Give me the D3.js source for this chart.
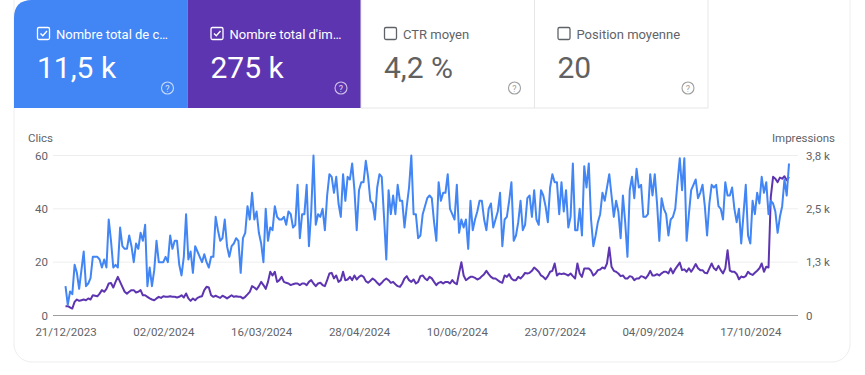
<!DOCTYPE html>
<html>
<head>
<meta charset="utf-8">
<script src="https://cdn.jsdelivr.net/npm/d3@7.9.0/dist/d3.min.js"></script>
<style>
  body { margin: 0; background: #fff; }
  svg { display: block; font-family: Roboto, "Noto Sans", sans-serif; }
</style>
</head>
<body>
<svg id="chart" width="865" height="375"></svg>
<script>
// metric cards
const cardLabels = ['Nombre total de c…', "Nombre total d'im…", 'CTR moyen', 'Position moyenne'];
const cardValues = ['11,5 k', '275 k', '4,2 %', '20'];
const cardSelected = [true, true, false, false];

// daily series, starting 21/12/2023
const startDate = new Date(2023, 11, 21);
const clicks = [
  11, 4, 9, 8, 19, 16, 10, 17, 24, 11,
  12, 14, 22, 22, 22, 21, 18, 21, 18, 36,
  28, 18, 19, 18, 33, 26, 25, 25, 30, 26,
  20, 27, 25, 31, 28, 34, 11, 18, 11, 17,
  28, 20, 20, 20, 22, 20, 30, 25, 28, 28,
  19, 15, 22, 38, 21, 24, 16, 26, 24, 22,
  20, 23, 20, 18, 22, 22, 37, 32, 28, 29,
  36, 26, 22, 26, 27, 29, 28, 16, 29, 31,
  41, 36, 46, 36, 39, 31, 27, 20, 40, 28,
  33, 32, 41, 37, 36, 36, 37, 34, 39, 38,
  33, 34, 49, 29, 38, 38, 49, 26, 39, 60,
  34, 38, 37, 40, 32, 45, 53, 52, 46, 52,
  42, 37, 53, 43, 52, 51, 57, 47, 32, 47,
  50, 50, 58, 52, 43, 42, 36, 48, 53, 52,
  37, 21, 47, 38, 45, 38, 49, 43, 43, 33,
  41, 48, 60, 38, 38, 29, 30, 38, 41, 44,
  45, 44, 35, 28, 50, 43, 46, 46, 53, 40,
  38, 36, 49, 31, 36, 33, 36, 25, 43, 32,
  36, 39, 43, 43, 36, 32, 40, 42, 33, 36,
  39, 46, 26, 36, 37, 43, 50, 28, 30, 35,
  43, 32, 34, 44, 45, 37, 47, 36, 34, 47,
  45, 41, 35, 48, 53, 50, 50, 38, 50, 39,
  47, 33, 37, 57, 32, 32, 40, 30, 56, 48,
  57, 36, 26, 30, 35, 38, 46, 43, 48, 53,
  45, 37, 43, 39, 29, 45, 35, 22, 47, 52,
  44, 55, 48, 49, 37, 37, 38, 53, 45, 53,
  42, 28, 44, 40, 38, 30, 36, 37, 40, 50,
  59, 47, 59, 28, 38, 47, 49, 51, 44, 46,
  49, 41, 30, 42, 49, 48, 49, 41, 40, 36,
  50, 45, 45, 48, 40, 35, 40, 27, 38, 49,
  30, 27, 43, 38, 46, 42, 52, 46, 50, 38,
  43, 42, 39, 31, 37, 41, 51, 45, 57
];
const impressions = [
  219, 219, 188, 163, 319, 375, 344, 359, 375, 359,
  400, 375, 475, 463, 450, 513, 594, 556, 625, 750,
  763, 656, 788, 906, 788, 669, 556, 513, 556, 594,
  594, 538, 556, 594, 475, 475, 438, 400, 375, 359,
  400, 438, 413, 450, 438, 438, 450, 438, 438, 422,
  438, 475, 422, 516, 400, 344, 400, 359, 413, 438,
  453, 594, 672, 656, 475, 438, 463, 438, 413, 463,
  438, 400, 438, 475, 438, 453, 438, 438, 400, 438,
  494, 556, 688, 656, 609, 688, 788, 713, 625, 788,
  1025, 938, 1025, 788, 828, 906, 788, 766, 750, 713,
  734, 750, 750, 713, 750, 750, 713, 788, 828, 750,
  688, 750, 766, 713, 688, 828, 984, 1000, 869, 938,
  788, 828, 1025, 828, 844, 906, 828, 938, 844, 906,
  938, 906, 806, 766, 813, 869, 828, 766, 713, 766,
  828, 869, 828, 766, 788, 734, 688, 672, 750, 869,
  922, 828, 788, 844, 750, 788, 922, 938, 869, 828,
  906, 869, 788, 713, 766, 788, 750, 788, 788, 750,
  828, 766, 734, 1000, 1250, 938, 828, 869, 906, 906,
  881, 844, 869, 922, 969, 1047, 969, 906, 869, 869,
  828, 788, 766, 938, 906, 969, 869, 828, 828, 906,
  869, 922, 1000, 984, 1000, 1047, 1125, 1078, 1025, 938,
  906, 850, 922, 1025, 1047, 1219, 938, 984, 969, 984,
  963, 938, 984, 922, 869, 1219, 984, 906, 1100, 1100,
  1100, 1047, 938, 984, 1063, 1078, 1125, 1100, 1219, 1594,
  1141, 1047, 1025, 984, 922, 938, 869, 869, 922, 906,
  828, 869, 869, 922, 906, 869, 938, 1047, 938, 938,
  969, 938, 988, 1025, 1025, 988, 1106, 988, 1088, 1163,
  1238, 1063, 1081, 1025, 1106, 1025, 1106, 1206, 1106, 1063,
  1063, 1000, 988, 1106, 1219, 1106, 1063, 1163, 1063, 988,
  1106, 1531, 1050, 1025, 1025, 975, 850, 913, 894, 925,
  1025, 975, 950, 1000, 1050, 1106, 1219, 1025, 1144, 1125,
  2781, 3250, 3206, 3125, 3231, 3206, 3263, 3169, 3250
];

// axes
const clicksTicks = [0, 20, 40, 60];
const impressionTicks = [0, 1250, 2500, 3750];
const dateTicks = ['21/12/2023', '02/02/2024', '16/03/2024', '28/04/2024', '10/06/2024', '23/07/2024', '04/09/2024', '17/10/2024'];

const blue = '#4285f4';
const purple = '#5e35b1';
const parseDay = d3.timeParse('%d/%m/%Y');
const dates = clicks.map((_, i) => d3.timeDay.offset(startDate, i));

const svg = d3.select('#chart');

// outer card
svg.append('rect')
  .attr('x', 14).attr('y', -20).attr('width', 836).attr('height', 382)
  .attr('rx', 18)
  .attr('fill', '#fff').attr('stroke', '#eeeeee');

// metric tiles
const tileX = d3.scaleBand().domain(d3.range(4)).range([14, 708]);
const tileFill = [blue, purple, '#fff', '#fff'];

const tiles = svg.selectAll('g.tile')
  .data(cardLabels)
  .join('g')
  .attr('class', 'tile')
  .attr('transform', (d, i) => `translate(${tileX(i)},0)`);

tiles.each(function (d, i) {
  const g = d3.select(this);
  const w = tileX.bandwidth();
  const on = cardSelected[i];
  const fg = on ? '#fff' : '#5f6368';
  if (i === 0) {
    g.append('path')
      .attr('d', `M0,108 V18 Q0,0 18,0 H${w} V108 Z`)
      .attr('fill', tileFill[i]);
  } else {
    g.append('rect').attr('width', w).attr('height', 108).attr('fill', tileFill[i]);
  }
  if (!on) {
    g.append('line').attr('x1', 0).attr('x2', 0).attr('y1', 0).attr('y2', 108).attr('stroke', '#e6e6e6');
    g.append('line').attr('x1', 0).attr('x2', w).attr('y1', 108).attr('y2', 108).attr('stroke', '#e6e6e6');
    if (i === 3) g.append('line').attr('x1', w).attr('x2', w).attr('y1', 0).attr('y2', 108).attr('stroke', '#e6e6e6');
  }
  // checkbox
  g.append('rect')
    .attr('x', 23.5).attr('y', 27.5).attr('width', 12).attr('height', 12).attr('rx', 1.5)
    .attr('fill', 'none').attr('stroke', fg).attr('stroke-width', 1.3);
  if (on) {
    g.append('path')
      .attr('d', 'M26.5,33.5 L28.8,35.8 L33,31')
      .attr('fill', 'none').attr('stroke', fg).attr('stroke-width', 1.4);
  }
  g.append('text')
    .attr('x', 42).attr('y', 38.5)
    .attr('font-size', 13).attr('fill', fg)
    .text(d);
  g.append('text')
    .attr('x', 23).attr('y', 78)
    .attr('font-size', 30).attr('fill', on ? '#fff' : '#616161')
    .text(cardValues[i]);
  // help icon
  g.append('circle')
    .attr('cx', w - 20).attr('cy', 88).attr('r', 6)
    .attr('fill', 'none').attr('stroke', on ? 'rgba(255,255,255,0.7)' : '#9e9e9e').attr('stroke-width', 1.1);
  g.append('text')
    .attr('x', w - 20).attr('y', 91.5)
    .attr('text-anchor', 'middle')
    .attr('font-size', 9).attr('fill', on ? 'rgba(255,255,255,0.8)' : '#9e9e9e')
    .text('?');
});

// chart
const margin = { left: 53, right: 798, top: 155.5, bottom: 315.5 };
const x = d3.scaleTime()
  .domain([startDate, d3.timeDay.offset(startDate, 318)])
  .range([65.5, 789]);
const yL = d3.scaleLinear().domain([0, 60]).range([margin.bottom, margin.top]);
const yR = d3.scaleLinear().domain([0, 3750]).range([margin.bottom, margin.top]);

const fmtK = (v) => v === 0 ? '0' : d3.format('.1f')(v / 1000).replace('.', ',') + ' k';

// gridlines
svg.append('g')
  .selectAll('line')
  .data(clicksTicks.slice(1))
  .join('line')
  .attr('x1', margin.left).attr('x2', margin.right)
  .attr('y1', (d) => yL(d)).attr('y2', (d) => yL(d))
  .attr('stroke', '#eeeeee');

svg.append('line')
  .attr('x1', margin.left).attr('x2', margin.right)
  .attr('y1', yL(0)).attr('y2', yL(0))
  .attr('stroke', '#9e9e9e');

// left axis
const leftAxis = svg.append('g')
  .attr('transform', `translate(${margin.left - 5},0)`)
  .call(d3.axisLeft(yL).tickValues(clicksTicks).tickSize(0).tickPadding(0));
leftAxis.select('.domain').remove();
leftAxis.selectAll('text').attr('font-size', 11.5).attr('fill', '#5f6368').attr('font-family', 'Roboto');

// right axis
const rightAxis = svg.append('g')
  .attr('transform', `translate(${margin.right + 8},0)`)
  .call(d3.axisRight(yR).tickValues(impressionTicks).tickFormat(fmtK).tickSize(0).tickPadding(0));
rightAxis.select('.domain').remove();
rightAxis.selectAll('text').attr('font-size', 11.5).attr('fill', '#5f6368').attr('font-family', 'Roboto');

// bottom axis
const bottomAxis = svg.append('g')
  .attr('transform', `translate(0,${margin.bottom + 12})`)
  .call(d3.axisBottom(x)
    .tickValues(dateTicks.map(parseDay))
    .tickFormat(d3.timeFormat('%d/%m/%Y'))
    .tickSize(0).tickPadding(0));
bottomAxis.select('.domain').remove();
bottomAxis.selectAll('text').attr('font-size', 11.5).attr('fill', '#5f6368').attr('font-family', 'Roboto');

// axis titles
svg.append('text').attr('x', 28).attr('y', 142)
  .attr('font-size', 11.5).attr('fill', '#5f6368').text('Clics');
svg.append('text').attr('x', 835).attr('y', 142).attr('text-anchor', 'end')
  .attr('font-size', 11.5).attr('fill', '#5f6368').text('Impressions');

// lines
const clickLine = d3.line().x((d, i) => x(dates[i])).y((d) => yL(d));
const imprLine = d3.line().x((d, i) => x(dates[i])).y((d) => yR(d));

svg.append('path')
  .datum(impressions)
  .attr('d', imprLine)
  .attr('fill', 'none').attr('stroke', purple).attr('stroke-width', 2)
  .attr('stroke-linejoin', 'round');

svg.append('path')
  .datum(clicks)
  .attr('d', clickLine)
  .attr('fill', 'none').attr('stroke', blue).attr('stroke-width', 2)
  .attr('stroke-linejoin', 'round');
</script>
</body>
</html>
